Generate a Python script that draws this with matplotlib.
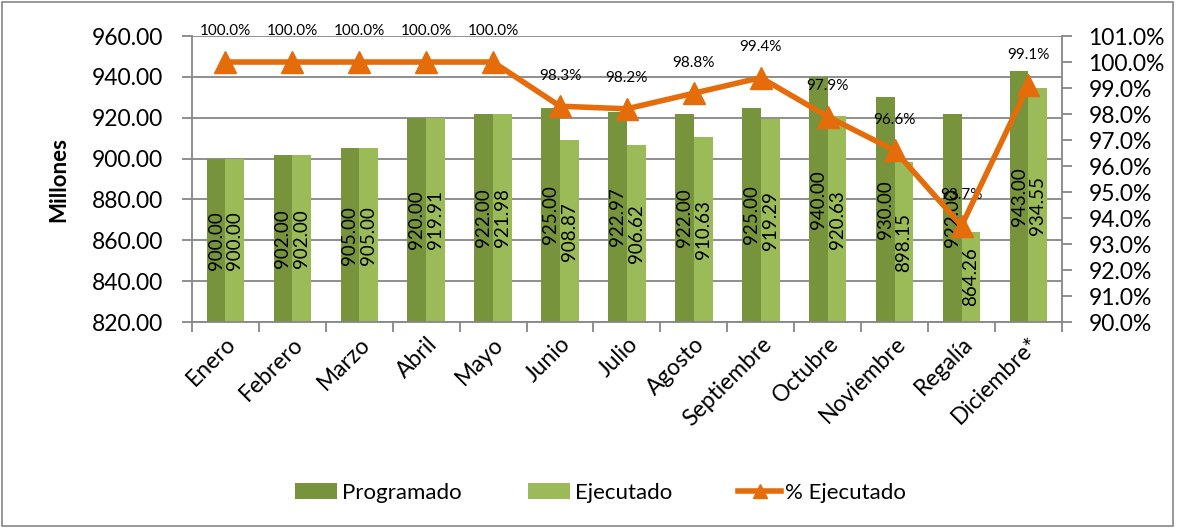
import numpy as np
import matplotlib
matplotlib.use("Agg")
import matplotlib.pyplot as plt
from matplotlib.patches import Rectangle
from matplotlib.lines import Line2D

plt.rcParams['font.family'] = ['Lato', 'DejaVu Sans']

meses = ["Enero", "Febrero", "Marzo", "Abril", "Mayo", "Junio", "Julio", "Agosto",
         "Septiembre", "Octubre", "Noviembre", "Regalía", "Diciembre*"]
programado = [900.00, 902.00, 905.00, 920.00, 922.00, 925.00, 922.97, 922.00,
              925.00, 940.00, 930.00, 922.00, 943.00]
ejecutado = [900.00, 902.00, 905.00, 919.91, 921.98, 908.87, 906.62, 910.63,
             919.29, 920.63, 898.15, 864.26, 934.55]
pct_ejecutado = [100.0, 100.0, 100.0, 100.0, 100.0, 98.3, 98.2, 98.8,
                 99.4, 97.9, 96.6, 93.7, 99.1]

c_prog = "#77933C"
c_ejec = "#9BBB59"
c_line = "#E46C0A"
gris = "#868686"

fig = plt.figure(figsize=(11.82, 5.29), dpi=100)
ax = fig.add_axes([0.1624, 0.3913, 0.7360, 0.5406])
x = np.arange(len(meses))
w = 0.28
ymin = 820

b1 = ax.bar(x - w / 2, np.array(programado) - ymin, w, bottom=ymin, color=c_prog,
            label="Programado", zorder=2)
b2 = ax.bar(x + w / 2, np.array(ejecutado) - ymin, w, bottom=ymin, color=c_ejec,
            label="Ejecutado", zorder=2)

for xi, v in zip(x, programado):
    ax.text(xi - w / 2, (ymin + v) / 2, f"{v:.2f}", rotation=90, ha="center",
            va="center", fontsize=13.5, color="black", zorder=3)
for xi, v in zip(x, ejecutado):
    ax.text(xi + w / 2, (ymin + v) / 2, f"{v:.2f}", rotation=90, ha="center",
            va="center", fontsize=13.5, color="black", zorder=3)

ax.set_xlim(-0.5, len(meses) - 0.5)
ax.set_ylim(820, 960)
ax.set_yticks(np.arange(820, 961, 20))
ax.set_yticklabels([f"{t:.2f}" for t in np.arange(820, 961, 20)], fontsize=16.5)
ax.yaxis.grid(True, color=gris, linewidth=1.3, zorder=0)
ax.set_axisbelow(True)
ax.set_xticks(x)
ax.set_xticklabels(meses, rotation=45, ha="right", rotation_mode="anchor", fontsize=16.5)
ax.tick_params(axis="x", length=0, pad=8)
ax.set_xticks(np.arange(-0.5, len(meses), 1), minor=True)
ax.tick_params(axis="x", which="minor", length=7, color=gris, width=1.3)
ax.tick_params(axis="y", length=7, color=gris, width=1.3, pad=14)
ax.set_ylabel("Millones", fontsize=16, fontweight="bold", labelpad=16)
for s in ["top", "right"]:
    ax.spines[s].set_visible(False)
for s in ["left", "bottom"]:
    ax.spines[s].set_color(gris)
    ax.spines[s].set_linewidth(1.3)

ax2 = ax.twinx()
ax2.plot(x, pct_ejecutado, color=c_line, linewidth=4, marker="^",
         markersize=16, zorder=4)
for xi, p in zip(x, pct_ejecutado):
    ax2.annotate(f"{p:.1f}%", (xi, p), xytext=(0, 22), textcoords="offset points",
                 ha="center", va="center", fontsize=11)
ax2.set_ylim(90, 101)
ax2.set_yticks(np.arange(90, 101.1, 1))
ax2.set_yticklabels([f"{t:.1f}%" for t in np.arange(90, 101.1, 1)], fontsize=16.5)
ax2.tick_params(axis="y", length=7, color=gris, width=1.3, pad=12)
for s in ["top", "left", "bottom"]:
    ax2.spines[s].set_visible(False)
ax2.spines["right"].set_color(gris)
ax2.spines["right"].set_linewidth(1.3)

ln = Line2D([], [], color=c_line, linewidth=4, marker="^", markersize=10)
fig.legend([b1, b2, ln], ["Programado", "Ejecutado", "% Ejecutado"], loc="center",
           bbox_to_anchor=(0.508, 0.068), ncol=3, frameon=False, fontsize=16,
           handlelength=1.9, handleheight=0.75, columnspacing=3.0, handletextpad=0.2)

fig.patches.append(Rectangle((0.002, 0.006), 0.99, 0.99, transform=fig.transFigure,
                             fill=False, edgecolor=gris, linewidth=1.2))

fig.savefig("out.png", dpi=100)
